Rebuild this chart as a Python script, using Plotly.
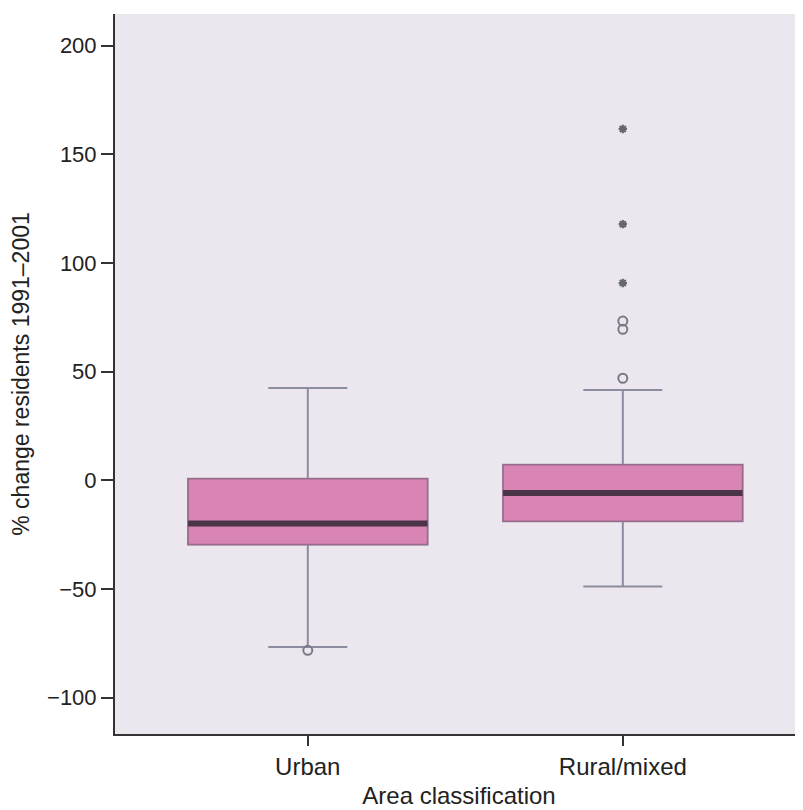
import plotly.graph_objects as go

categories = ["Urban", "Rural/mixed"]
q1 = [-29.5, -18.8]
median = [-19.8, -5.8]
q3 = [0.8, 7.2]
lower_whisker = [-76.7, -48.8]
upper_whisker = [42.5, 41.6]

circle_outlier_x = ["Urban", "Rural/mixed", "Rural/mixed", "Rural/mixed"]
circle_outlier_y = [-78.2, 47.0, 69.5, 73.3]
extreme_outlier_x = ["Rural/mixed", "Rural/mixed", "Rural/mixed"]
extreme_outlier_y = [90.8, 117.9, 161.7]

y_ticks = [-100, -50, 0, 50, 100, 150, 200]
y_tick_text = ["\u2212100", "\u221250", "0", "50", "100", "150", "200"]

BOX_W = 0.76
FONT = "Liberation Sans, Arial, sans-serif"

fig = go.Figure()

# whiskers + caps
fig.add_trace(go.Box(
    x=categories, q1=q1, median=median, q3=q3,
    lowerfence=lower_whisker, upperfence=upper_whisker,
    width=BOX_W, whiskerwidth=0.33,
    line=dict(color="#8c8ca0", width=2),
    fillcolor="#d985b4", boxpoints=False,
    showlegend=False, hoverinfo="skip",
))
# box body
fig.add_trace(go.Box(
    x=categories, q1=q1, median=median, q3=q3,
    lowerfence=q1, upperfence=q3,
    width=BOX_W, whiskerwidth=0,
    line=dict(color="#9a6a8c", width=1.5),
    fillcolor="#d985b4", boxpoints=False,
    showlegend=False, hoverinfo="skip",
))
# thick median
fig.add_trace(go.Box(
    x=categories, q1=median, median=median, q3=median,
    lowerfence=median, upperfence=median,
    width=BOX_W, whiskerwidth=0,
    line=dict(color="#4a3448", width=6),
    fillcolor="rgba(0,0,0,0)", boxpoints=False,
    showlegend=False, hoverinfo="skip",
))

fig.add_trace(go.Scatter(
    x=circle_outlier_x, y=circle_outlier_y, mode="markers",
    marker=dict(symbol="circle-open", size=9, color="#7a7a86", line=dict(width=2)),
    showlegend=False, hoverinfo="skip",
))
fig.add_trace(go.Scatter(
    x=extreme_outlier_x, y=extreme_outlier_y, mode="markers",
    marker=dict(symbol="asterisk-open", size=7, color="#66666e", line=dict(width=2.2)),
    showlegend=False, hoverinfo="skip",
))

fig.update_layout(
    width=795, height=802,
    margin=dict(l=107, r=0, t=6, b=76, autoexpand=False),
    paper_bgcolor="white",
    plot_bgcolor="#ece6ee",
    boxmode="overlay",
    font=dict(family=FONT, size=22, color="#222222"),
)
fig.update_xaxes(
    type="category", categoryorder="array", categoryarray=categories,
    range=[-0.612, 1.572], automargin=False,
    showgrid=False, zeroline=False,
    showline=True, linecolor="#333333", linewidth=2,
    ticks="outside", ticklen=10, tickwidth=1.5, tickcolor="#333333",
    tickfont=dict(size=24),
    title=dict(text="Area classification", font=dict(size=24), standoff=8),
)
fig.update_yaxes(
    range=[-116.7, 214.6], automargin=False,
    tickvals=y_ticks, ticktext=y_tick_text,
    showgrid=False, zeroline=False,
    showline=True, linecolor="#333333", linewidth=2,
    ticks="outside", ticklen=12, tickwidth=1.5, tickcolor="#333333",
    tickfont=dict(size=22),
    title=dict(text="% change residents 1991\u20132001", font=dict(size=23), standoff=17),
)

fig.write_html("out.html")
